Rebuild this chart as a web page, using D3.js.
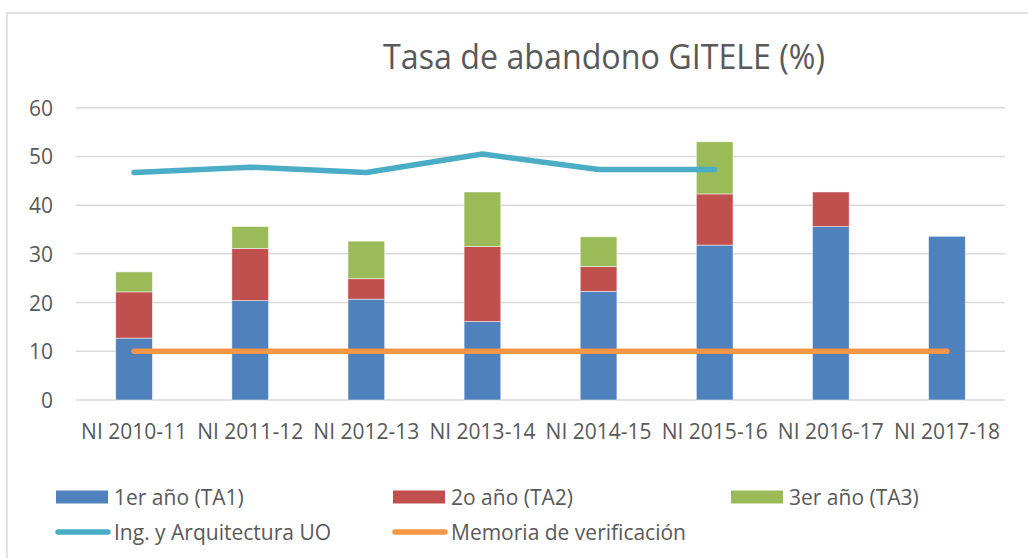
<!DOCTYPE html>
<html>
<head>
<meta charset="utf-8">
<script src="https://cdn.jsdelivr.net/npm/d3@7"></script>
<style>
  html, body { margin: 0; padding: 0; background: #fff; }
  svg { display: block; font-family: "Open Sans", sans-serif; }
</style>
</head>
<body>
<svg id="chart" width="1028" height="558"></svg>
<script>
const categories = ["NI 2010-11", "NI 2011-12", "NI 2012-13", "NI 2013-14", "NI 2014-15", "NI 2015-16", "NI 2016-17", "NI 2017-18"];
const ta1 = [12.7, 20.4, 20.7, 16.1, 22.3, 31.8, 35.6, 33.6];
const ta2 = [9.5, 10.7, 4.2, 15.4, 5.1, 10.5, 7.1, 0];
const ta3 = [4.1, 4.5, 7.7, 11.2, 6.1, 10.7, 0, 0];
const ingArq = [46.7, 47.8, 46.7, 50.5, 47.3, 47.3, null, null];
const memoria = [10, 10, 10, 10, 10, 10, 10, 10];
const yTicks = [0, 10, 20, 30, 40, 50, 60];
const seriesNames = ["1er año (TA1)", "2o año (TA2)", "3er año (TA3)", "Ing. y Arquitectura UO", "Memoria de verificación"];
const colors = ["#4F81BD", "#C0504D", "#9BBB59", "#4BACC6", "#F79646"];
const title = "Tasa de abandono GITELE (%)";

const svg = d3.select("#chart");
const textColor = "#595959";
const plot = { left: 76, right: 1005, top: 107.7, bottom: 400 };

// outer chart border
svg.append("rect").attr("x", 7).attr("y", 13).attr("width", 1100).attr("height", 600)
  .attr("fill", "none").attr("stroke", "#D9D9D9").attr("stroke-width", 1.5);

const x = d3.scaleBand().domain(categories).range([plot.left, plot.right])
  .paddingInner(0.684).paddingOuter(0.342);
const y = d3.scaleLinear().domain([0, 60]).range([plot.bottom, plot.top]);

// title
svg.append("text").attr("x", 604).attr("y", 69).attr("text-anchor", "middle")
  .attr("font-size", 34).attr("fill", textColor)
  .attr("textLength", 442).attr("lengthAdjust", "spacingAndGlyphs").text(title);

// gridlines
svg.append("g").selectAll("line").data(yTicks).join("line")
  .attr("x1", plot.left).attr("x2", plot.right)
  .attr("y1", d => y(d)).attr("y2", d => y(d))
  .attr("stroke", "#D9D9D9").attr("stroke-width", 1.5);

// y axis labels
const yAxis = d3.axisLeft(y).tickValues(yTicks).tickSize(0).tickPadding(0);
const yg = svg.append("g").attr("transform", `translate(53,0)`).call(yAxis);
yg.select(".domain").remove();
yg.selectAll("text").attr("font-size", 21).attr("fill", textColor)
  .attr("font-family", "Open Sans, sans-serif").attr("dy", "0.36em");

// x axis labels
const xAxis = d3.axisBottom(x).tickSize(0).tickPadding(0);
const xg = svg.append("g").attr("transform", `translate(0,${plot.bottom})`).call(xAxis);
xg.select(".domain").remove();
xg.selectAll("text").attr("font-size", 21).attr("fill", textColor)
  .attr("font-family", "Open Sans, sans-serif").attr("dy", null).attr("y", 39);

// stacked bars
const rows = categories.map((c, i) => ({ cat: c, ta1: ta1[i], ta2: ta2[i], ta3: ta3[i] }));
const stack = d3.stack().keys(["ta1", "ta2", "ta3"])(rows);
svg.append("g").selectAll("g").data(stack).join("g")
  .attr("fill", (d, i) => colors[i])
  .selectAll("rect").data(d => d.filter(p => p[1] - p[0] > 0)).join("rect")
  .attr("x", d => x(d.data.cat)).attr("width", x.bandwidth())
  .attr("y", d => y(d[1])).attr("height", d => y(d[0]) - y(d[1]))
  .attr("stroke", "#ffffff").attr("stroke-opacity", 0.6).attr("stroke-width", 0.8);

// lines
const cx = c => x(c) + x.bandwidth() / 2;
const lineGen = d3.line().defined(d => d.v != null).x(d => cx(d.c)).y(d => y(d.v));
[[ingArq, colors[3]], [memoria, colors[4]]].forEach(([vals, col]) => {
  svg.append("path")
    .datum(categories.map((c, i) => ({ c, v: vals[i] })))
    .attr("d", lineGen).attr("fill", "none").attr("stroke", col)
    .attr("stroke-width", 5.5).attr("stroke-linecap", "round").attr("stroke-linejoin", "round");
});

// legend
const legend = [
  { name: seriesNames[0], type: "rect", x: 56, y: 497, color: colors[0] },
  { name: seriesNames[1], type: "rect", x: 393, y: 497, color: colors[1] },
  { name: seriesNames[2], type: "rect", x: 731, y: 497, color: colors[2] },
  { name: seriesNames[3], type: "line", x: 56, y: 532, color: colors[3] },
  { name: seriesNames[4], type: "line", x: 393, y: 532, color: colors[4] }
];
const lg = svg.append("g");
legend.forEach(l => {
  if (l.type === "rect") {
    lg.append("rect").attr("x", l.x).attr("y", l.y - 6.5).attr("width", 52).attr("height", 13).attr("fill", l.color);
  } else {
    lg.append("line").attr("x1", l.x + 2).attr("x2", l.x + 52).attr("y1", l.y).attr("y2", l.y)
      .attr("stroke", l.color).attr("stroke-width", 5.5).attr("stroke-linecap", "round");
  }
  lg.append("text").attr("x", l.x + 58).attr("y", l.y + 7.5).attr("font-size", 21)
    .attr("fill", textColor).text(l.name);
});
</script>
</body>
</html>
